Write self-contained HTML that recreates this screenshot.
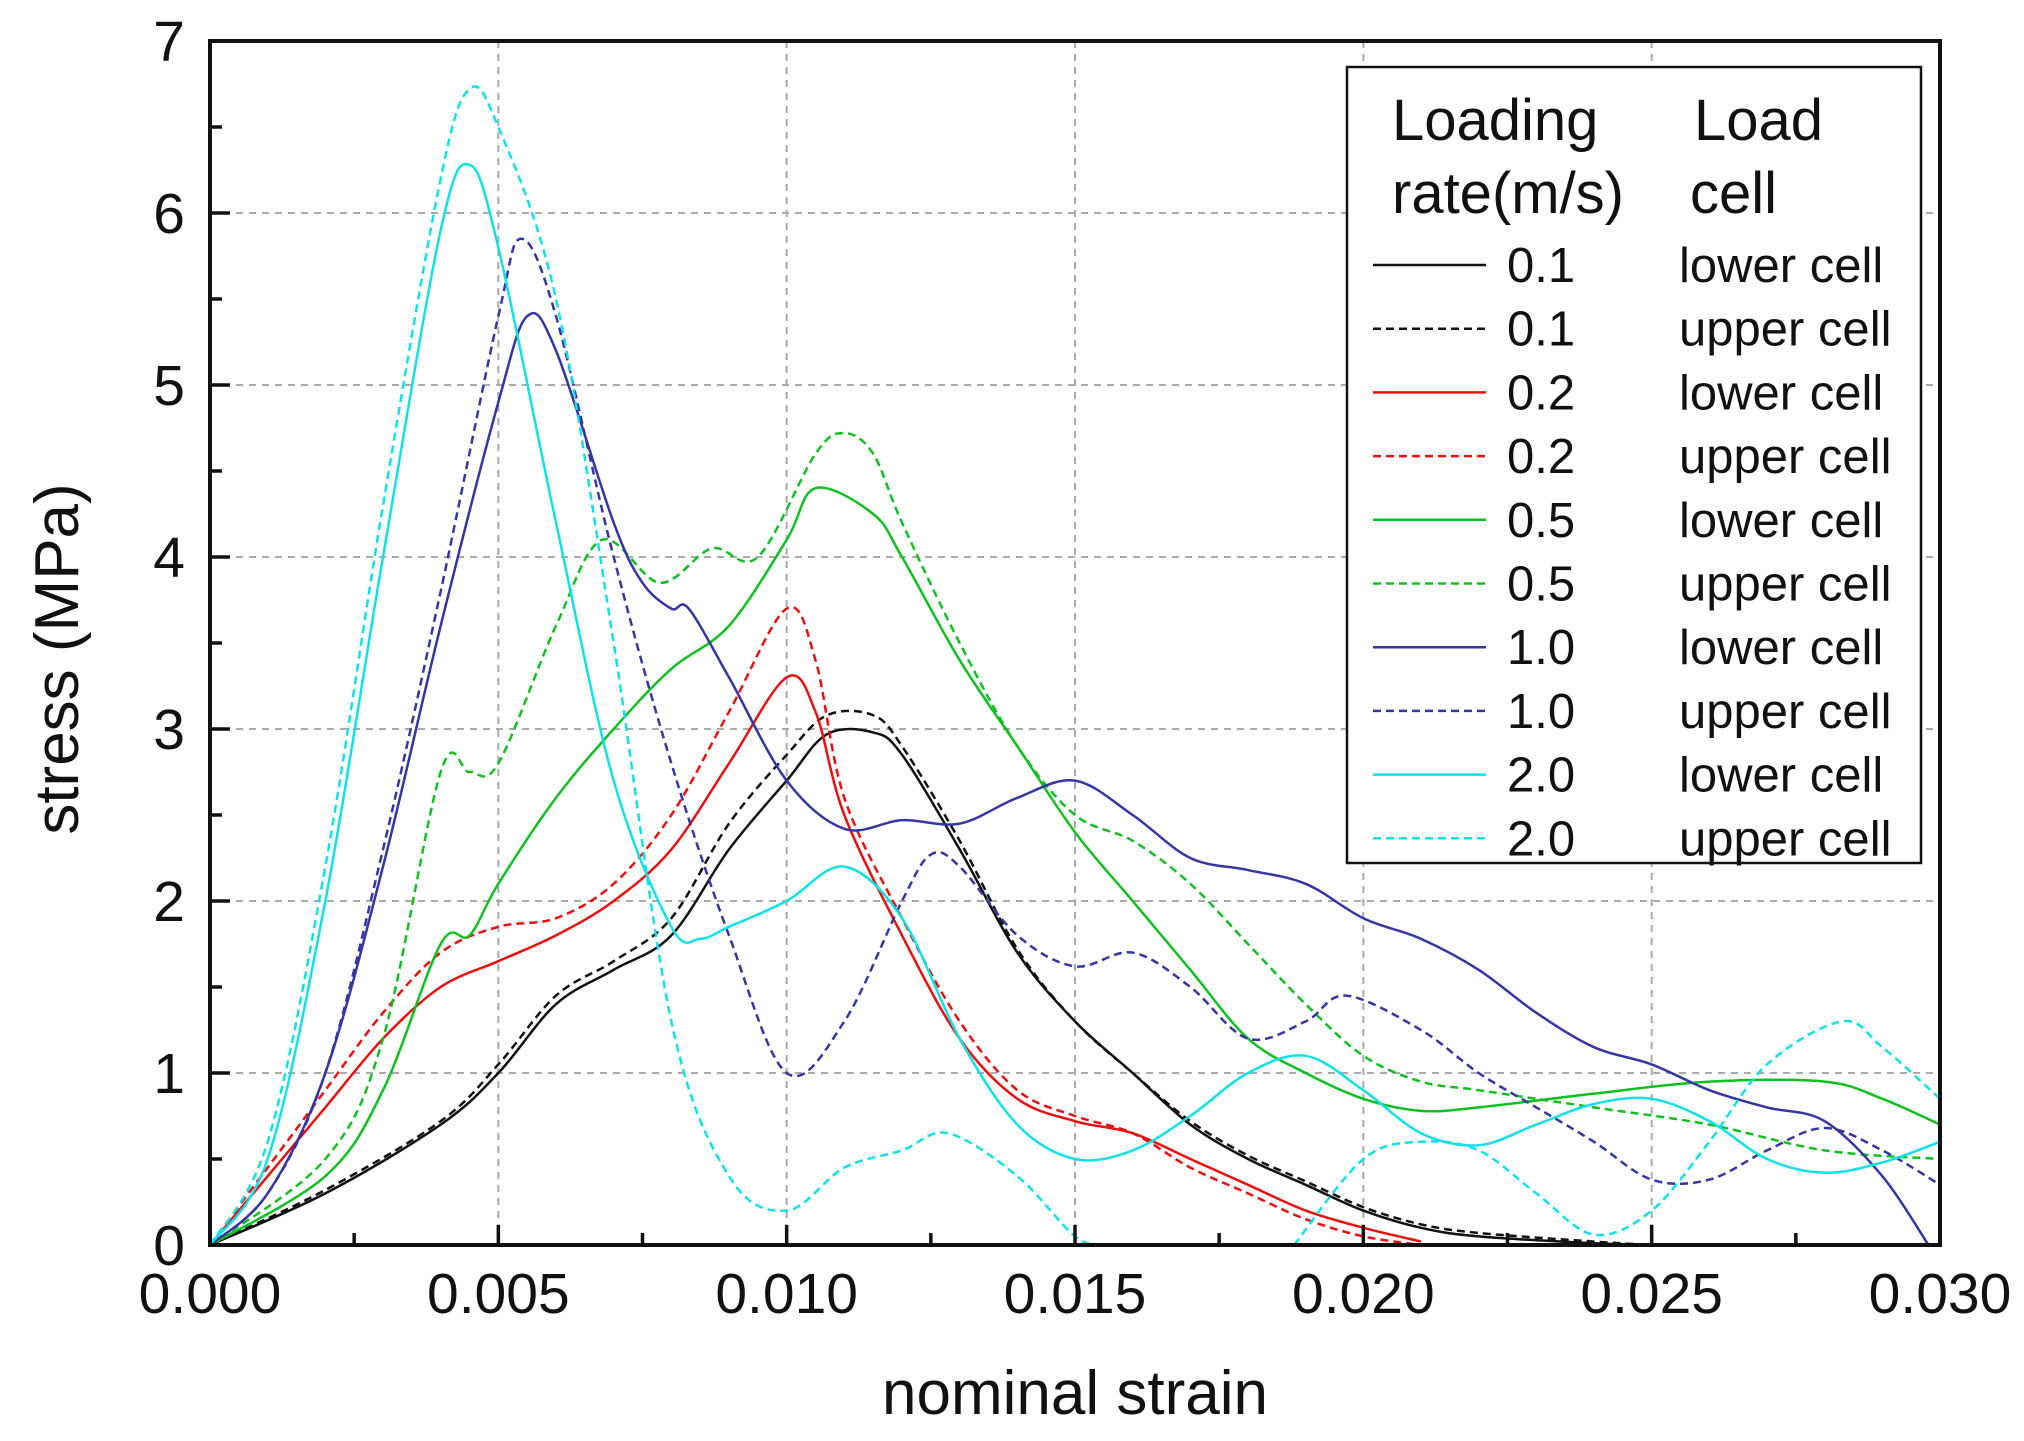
<!DOCTYPE html>
<html><head><meta charset="utf-8"><style>
body{margin:0;background:#fff}
svg{display:block;font-family:"Liberation Sans",Arial,sans-serif}
</style></head><body>
<svg id="s" width="2024" height="1441" xmlns="http://www.w3.org/2000/svg">
<rect width="2024" height="1441" fill="#fff"/>
<g id="grid" stroke="#aaa" stroke-width="2" stroke-dasharray="7,6"></g>
<g id="curves" fill="none" stroke-width="2.5"></g>
<rect x="210" y="41" width="1730" height="1204" fill="none" stroke="#111" stroke-width="4"/>
<g id="ticks" stroke="#111" stroke-width="3.5"></g>
<g id="labels" fill="#111"></g>
<text x="1075" y="1414" font-size="62" text-anchor="middle" fill="#111">nominal strain</text>
<text transform="translate(78,659) rotate(-90)" font-size="62" text-anchor="middle" fill="#111">stress (MPa)</text>
<rect x="1347" y="67" width="574" height="796" fill="#fff" stroke="#111" stroke-width="2.5"/>
<g fill="#111" font-size="58">
<text x="1392" y="140">Loading</text>
<text x="1392" y="213">rate(m/s)</text>
<text x="1694" y="140">Load</text>
<text x="1690" y="213">cell</text>
</g>
<g id="legend" font-size="49" fill="#111"></g>
</svg>
<script>
const X=s=>210+s/0.03*1730, Y=v=>1245-v*172;
const ns="http://www.w3.org/2000/svg";
function el(p,t,a,txt){const e=document.createElementNS(ns,t);for(const k in a)e.setAttribute(k,a[k]);if(txt)e.textContent=txt;document.getElementById(p).appendChild(e);return e;}
for(let i=1;i<6;i++)el('grid','line',{x1:X(i*0.005),x2:X(i*0.005),y1:41,y2:1245});
for(let i=1;i<7;i++)el('grid','line',{x1:210,x2:1940,y1:Y(i),y2:Y(i)});
for(let i=1;i<12;i++){const x=X(i*0.0025),l=i%2?12:20;el('ticks','line',{x1:x,x2:x,y1:1245,y2:1245-l});}
for(let i=1;i<14;i++){const y=Y(i*0.5),l=i%2?12:20;el('ticks','line',{x1:210,x2:210+l,y1:y,y2:y});}
for(let i=0;i<=7;i++)el('labels','text',{x:185,y:Y(i)+20,'font-size':57,'text-anchor':'end'},String(i));
['0.000','0.005','0.010','0.015','0.020','0.025','0.030'].forEach((t,i)=>el('labels','text',{x:X(i*0.005),y:1313,'font-size':57,'text-anchor':'middle'},t));
function path(pts){const P=pts.map(p=>[X(p[0]),Y(p[1])]);let d='M'+P[0][0]+','+P[0][1];
for(let i=0;i<P.length-1;i++){const p0=P[i-1]||P[i],p1=P[i],p2=P[i+1],p3=P[i+2]||P[i+1];
d+=' C'+(p1[0]+(p2[0]-p0[0])/6)+','+(p1[1]+(p2[1]-p0[1])/6)+' '+(p2[0]-(p3[0]-p1[0])/6)+','+(p2[1]-(p3[1]-p1[1])/6)+' '+p2[0]+','+p2[1];}return d;}
const C={k:'#111',r:'#e81010',g:'#10c020',b:'#3535a5',c:'#10e0e8'};
const S=[
[C.k,0,[[0,0],[0.002,0.3],[0.004,0.7],[0.005,1.0],[0.006,1.4],[0.007,1.6],[0.008,1.8],[0.009,2.3],[0.010,2.7],[0.0107,2.97],[0.0115,2.98],[0.012,2.85],[0.013,2.3],[0.014,1.7],[0.015,1.3],[0.016,1.0],[0.017,0.7],[0.018,0.5],[0.019,0.35],[0.020,0.2],[0.021,0.1],[0.022,0.05],[0.024,0.01],[0.025,0]]],
[C.k,1,[[0,0],[0.002,0.32],[0.004,0.72],[0.005,1.05],[0.006,1.45],[0.007,1.65],[0.008,1.9],[0.009,2.45],[0.010,2.85],[0.0107,3.08],[0.0115,3.08],[0.012,2.9],[0.013,2.35],[0.014,1.72],[0.015,1.3],[0.016,1.0],[0.017,0.72],[0.018,0.52],[0.019,0.37],[0.020,0.22],[0.021,0.12],[0.022,0.07],[0.024,0.02],[0.025,0]]],
[C.r,0,[[0,0],[0.001,0.4],[0.002,0.8],[0.003,1.2],[0.004,1.5],[0.005,1.65],[0.006,1.8],[0.007,2.0],[0.008,2.3],[0.009,2.8],[0.010,3.3],[0.0105,3.1],[0.011,2.5],[0.012,1.8],[0.013,1.2],[0.014,0.85],[0.015,0.72],[0.016,0.65],[0.017,0.5],[0.018,0.35],[0.019,0.2],[0.020,0.1],[0.021,0.02]]],
[C.r,1,[[0,0],[0.001,0.45],[0.002,0.9],[0.003,1.35],[0.004,1.7],[0.005,1.85],[0.006,1.9],[0.007,2.1],[0.008,2.5],[0.009,3.1],[0.010,3.7],[0.0105,3.4],[0.011,2.6],[0.012,1.9],[0.013,1.3],[0.014,0.9],[0.015,0.75],[0.016,0.65],[0.017,0.45],[0.018,0.3],[0.019,0.15],[0.020,0.05],[0.021,0]]],
[C.g,0,[[0,0],[0.002,0.4],[0.003,0.9],[0.004,1.75],[0.0045,1.8],[0.005,2.1],[0.006,2.6],[0.007,3.0],[0.008,3.35],[0.009,3.6],[0.010,4.1],[0.0105,4.4],[0.0115,4.25],[0.012,4.0],[0.013,3.4],[0.014,2.9],[0.015,2.4],[0.016,2.0],[0.017,1.6],[0.018,1.2],[0.019,1.0],[0.020,0.85],[0.021,0.78],[0.022,0.8],[0.024,0.88],[0.026,0.95],[0.028,0.95],[0.029,0.85],[0.030,0.7]]],
[C.g,1,[[0,0],[0.002,0.5],[0.003,1.2],[0.004,2.75],[0.0045,2.75],[0.005,2.8],[0.006,3.6],[0.0068,4.1],[0.0078,3.85],[0.0087,4.05],[0.0095,4.0],[0.0105,4.6],[0.011,4.72],[0.0115,4.6],[0.012,4.2],[0.013,3.5],[0.014,2.9],[0.015,2.5],[0.016,2.35],[0.017,2.1],[0.018,1.75],[0.019,1.4],[0.020,1.1],[0.021,0.95],[0.022,0.9],[0.024,0.8],[0.026,0.7],[0.028,0.55],[0.030,0.5]]],
[C.b,0,[[0,0],[0.001,0.3],[0.002,1.0],[0.003,2.2],[0.004,3.6],[0.005,4.9],[0.0055,5.4],[0.006,5.2],[0.007,4.2],[0.0075,3.85],[0.008,3.7],[0.0083,3.7],[0.009,3.3],[0.010,2.7],[0.011,2.42],[0.012,2.47],[0.013,2.45],[0.014,2.6],[0.015,2.7],[0.016,2.5],[0.017,2.25],[0.018,2.18],[0.019,2.1],[0.020,1.9],[0.021,1.78],[0.022,1.6],[0.023,1.35],[0.024,1.15],[0.025,1.05],[0.026,0.9],[0.027,0.8],[0.028,0.72],[0.029,0.4],[0.0298,0]]],
[C.b,1,[[0,0],[0.001,0.3],[0.002,1.0],[0.003,2.3],[0.004,3.8],[0.005,5.4],[0.0054,5.85],[0.006,5.4],[0.007,4.0],[0.008,2.8],[0.009,1.8],[0.010,1.0],[0.011,1.3],[0.012,2.0],[0.0125,2.27],[0.013,2.2],[0.014,1.8],[0.015,1.62],[0.016,1.7],[0.017,1.5],[0.018,1.2],[0.019,1.3],[0.0197,1.45],[0.021,1.25],[0.022,1.0],[0.023,0.8],[0.024,0.6],[0.025,0.38],[0.026,0.38],[0.027,0.55],[0.028,0.68],[0.029,0.55],[0.030,0.35]]],
[C.c,0,[[0,0],[0.001,0.5],[0.002,2.0],[0.003,4.0],[0.004,5.9],[0.0045,6.28],[0.005,5.8],[0.006,4.2],[0.007,2.7],[0.008,1.85],[0.0085,1.78],[0.009,1.85],[0.010,2.0],[0.011,2.2],[0.012,1.9],[0.013,1.2],[0.014,0.7],[0.015,0.5],[0.016,0.55],[0.017,0.75],[0.018,1.0],[0.019,1.1],[0.020,0.9],[0.021,0.65],[0.022,0.58],[0.023,0.7],[0.024,0.82],[0.025,0.85],[0.026,0.72],[0.027,0.5],[0.028,0.42],[0.029,0.48],[0.030,0.6]]],
[C.c,1,[[0,0],[0.001,0.6],[0.002,2.2],[0.003,4.3],[0.004,6.2],[0.0045,6.72],[0.005,6.5],[0.006,5.5],[0.007,3.5],[0.008,1.3],[0.009,0.4],[0.010,0.2],[0.011,0.45],[0.012,0.55],[0.0128,0.65],[0.014,0.4],[0.015,0.05],[0.0155,0]]],
[C.c,1,[[0.0188,0],[0.02,0.5],[0.021,0.6],[0.022,0.55],[0.023,0.3],[0.024,0.06],[0.025,0.2],[0.026,0.6],[0.027,1.05],[0.0283,1.3],[0.029,1.15],[0.030,0.85]]]
];
S.forEach(s=>{const a={d:path(s[2]),stroke:s[0]};if(s[1])a['stroke-dasharray']='8,5';el('curves','path',a);});
const L=[[C.k,0,'0.1','lower cell'],[C.k,1,'0.1','upper cell'],[C.r,0,'0.2','lower cell'],[C.r,1,'0.2','upper cell'],[C.g,0,'0.5','lower cell'],[C.g,1,'0.5','upper cell'],[C.b,0,'1.0','lower cell'],[C.b,1,'1.0','upper cell'],[C.c,0,'2.0','lower cell'],[C.c,1,'2.0','upper cell']];
L.forEach((l,i)=>{const y=265+63.7*i;const a={x1:1373,x2:1486,y1:y,y2:y,stroke:l[0],'stroke-width':2.5};if(l[1])a['stroke-dasharray']='8,5';el('legend','line',a);
el('legend','text',{x:1507,y:y+17},l[2]);el('legend','text',{x:1679,y:y+17},l[3]);});
</script>
</body></html>
